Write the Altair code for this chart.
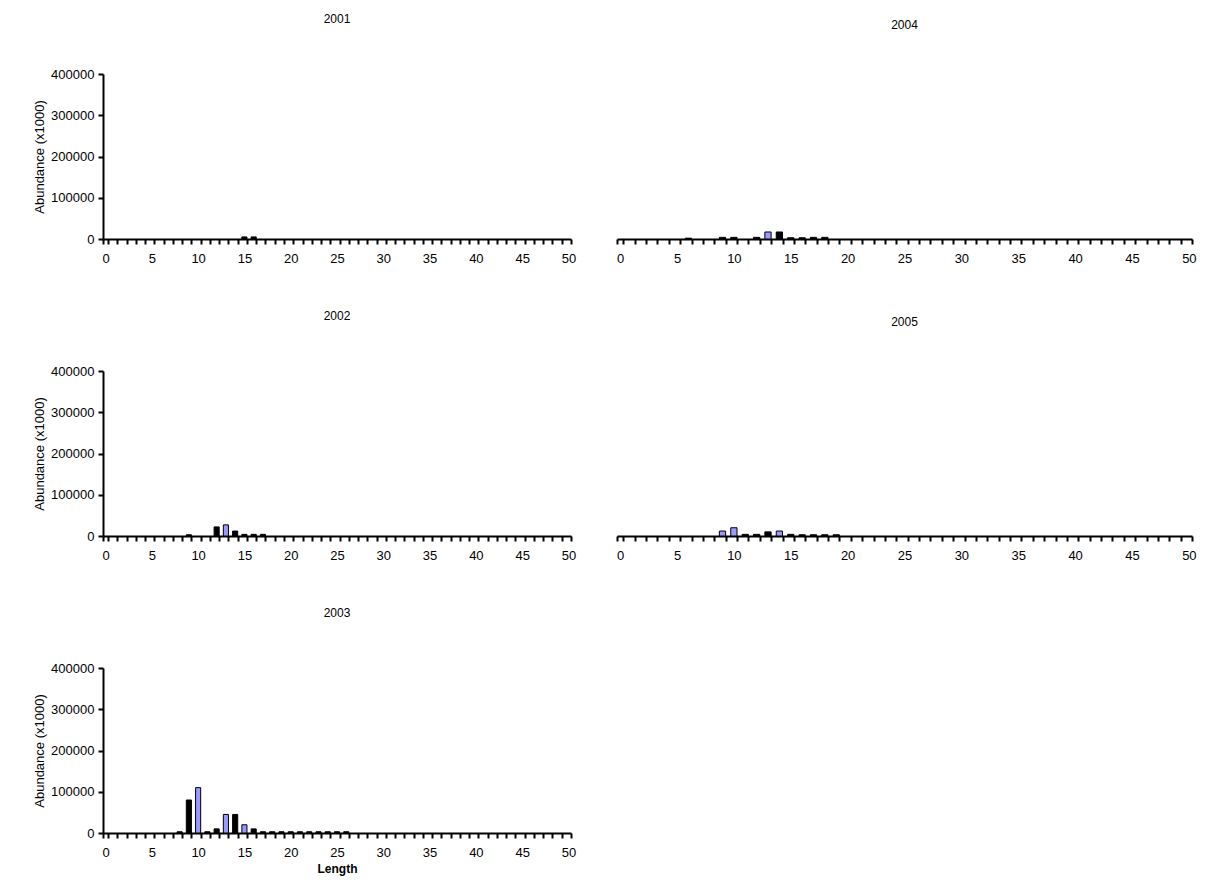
import altair as alt
import pandas as pd

lengths_2001 = [15, 16]
values_2001 = [5000, 5000]
series_2001 = ["A", "A"]

lengths_2002 = [9, 12, 13, 14, 15, 16, 17]
values_2002 = [3000, 22000, 27000, 12000, 4000, 4000, 4000]
series_2002 = ["A", "A", "B", "A", "A", "A", "A"]

lengths_2003 = [8, 9, 10, 11, 12, 13, 14, 15, 16, 17, 18, 19, 20, 21, 22, 23, 24, 25, 26]
values_2003 = [3000, 80000, 110000, 3000, 10000, 45000, 45000, 20000, 10000,
               3000, 3000, 3000, 3000, 3000, 3000, 3000, 3000, 3000, 3000]
series_2003 = ["A", "A", "B", "A", "A", "B", "A", "B", "A",
               "A", "A", "A", "A", "A", "A", "A", "A", "A", "A"]

lengths_2004 = [6, 9, 10, 12, 13, 14, 15, 16, 17, 18]
values_2004 = [2000, 4000, 4000, 4000, 17000, 17000, 3000, 3000, 4000, 4000]
series_2004 = ["A", "A", "A", "A", "B", "A", "A", "A", "A", "A"]

lengths_2005 = [9, 10, 11, 12, 13, 14, 15, 16, 17, 18, 19]
values_2005 = [12000, 20000, 4000, 4000, 10000, 12000, 4000, 3000, 3000, 3000, 3000]
series_2005 = ["B", "B", "A", "A", "A", "B", "A", "A", "A", "A", "A"]

all_lengths = list(range(0, 51))
y_ticks = [0, 100000, 200000, 300000, 400000]
FONT = "Liberation Sans"


def panel(year, lengths, values, series, width, left_axis, x_title=None):
    df = pd.DataFrame({"Length": lengths, "Abundance": values, "Series": series})
    x_axis = alt.Axis(
        title=x_title if x_title else None,
        titleFontWeight="bold", titleFontSize=12, titleFont=FONT, titleColor="black",
        labelAngle=0, labelFont=FONT, labelFontSize=13, labelColor="black",
        labelExpr="datum.value % 5 == 0 ? datum.label : ''",
        tickBand="extent", domainColor="black", domainWidth=2,
        tickColor="black", tickWidth=2, tickSize=5, grid=False, labelPadding=8,
    )
    if left_axis:
        y_axis = alt.Axis(
            title="Abundance (x1000)", titleFont=FONT, titleFontSize=13, titleColor="black",
            titleFontWeight="normal", values=y_ticks, format="d",
            labelFont=FONT, labelFontSize=13, labelColor="black",
            domainColor="black", domainWidth=2, tickColor="black",
            tickWidth=2, tickSize=5, grid=False, labelPadding=4,
        )
    else:
        y_axis = None
    return (
        alt.Chart(df)
        .mark_bar(stroke="black", strokeWidth=1)
        .encode(
            x=alt.X("Length:O", scale=alt.Scale(domain=all_lengths, paddingInner=0.45, paddingOuter=0),
                    axis=x_axis),
            y=alt.Y("Abundance:Q", scale=alt.Scale(domain=[0, 400000]), axis=y_axis),
            color=alt.Color("Series:N", scale=alt.Scale(domain=["A", "B"], range=["black", "#9999FF"]),
                            legend=None),
        )
        .properties(width=width, height=165,
                    view=alt.ViewBackground(stroke="transparent", strokeWidth=0),
                    title=alt.TitleParams(str(year), font=FONT, fontSize=12, color="black",
                                          fontWeight="normal", offset=42))
    )


left_w = 468
right_w = 575
row1 = alt.hconcat(panel(2001, lengths_2001, values_2001, series_2001, left_w, True),
                   panel(2004, lengths_2004, values_2004, series_2004, right_w, False), spacing=40)
row2 = alt.hconcat(panel(2002, lengths_2002, values_2002, series_2002, left_w, True),
                   panel(2005, lengths_2005, values_2005, series_2005, right_w, False), spacing=40)
row3 = panel(2003, lengths_2003, values_2003, series_2003, left_w, True, x_title="Length")

chart = (
    alt.vconcat(row1, row2, row3, spacing=45)
    .properties(padding={"left": 25, "top": 5, "right": 5, "bottom": 5})
    .configure_view(strokeWidth=0, stroke="transparent")
    .configure(background="white")
)
chart.save("out.html", embed_options={"renderer": "svg", "actions": False})
